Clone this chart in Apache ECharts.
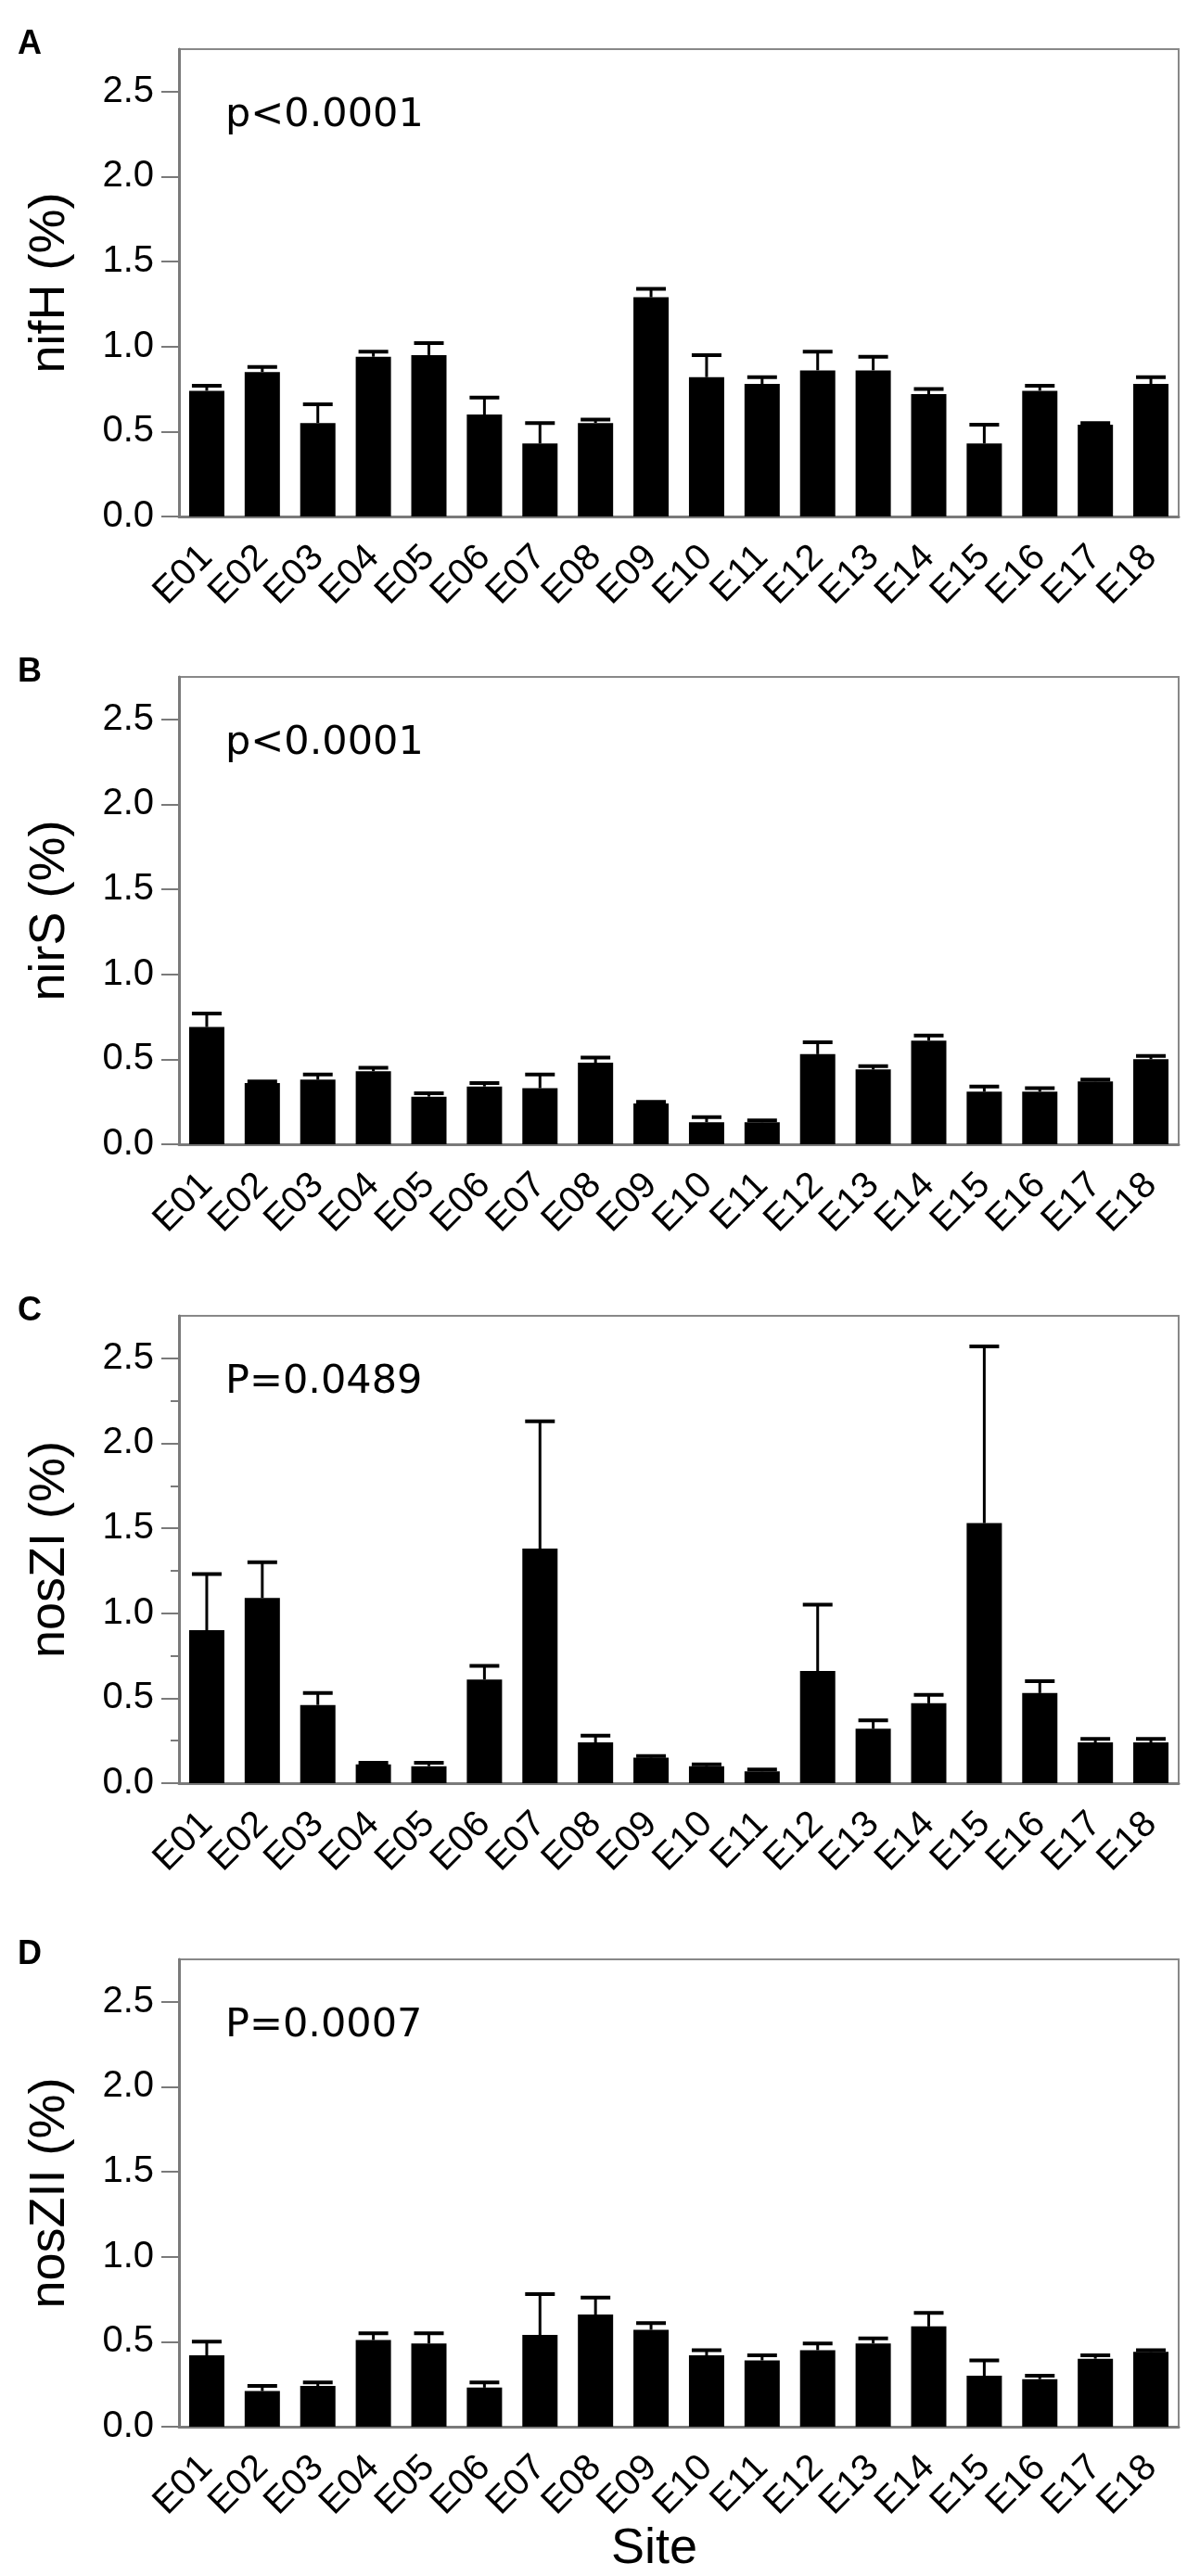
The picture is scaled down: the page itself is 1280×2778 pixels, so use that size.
<!DOCTYPE html>
<html>
<head>
<meta charset="utf-8">
<script src="https://cdn.jsdelivr.net/npm/echarts@6/dist/echarts.min.js"></script>
<style>
  html, body { margin: 0; padding: 0; background: #fff; }
  #chart { width: 1280px; height: 2778px; }
</style>
</head>
<body>
<div id="chart"></div>
<script>
// data (mean and top of error bar, %)
const sites = ['E01','E02','E03','E04','E05','E06','E07','E08','E09','E10','E11','E12','E13','E14','E15','E16','E17','E18']

const nifH    = [0.74,0.85,0.55,0.94,0.95,0.60,0.43,0.55,1.29,0.82,0.78,0.86,0.86,0.72,0.43,0.74,0.54,0.78]
const nifHTop = [0.77,0.88,0.66,0.97,1.02,0.70,0.55,0.57,1.34,0.95,0.82,0.97,0.94,0.75,0.54,0.77,0.55,0.82]

const nirS    = [0.69,0.36,0.38,0.43,0.28,0.34,0.33,0.48,0.24,0.13,0.13,0.53,0.44,0.61,0.31,0.31,0.37,0.50]
const nirSTop = [0.77,0.37,0.41,0.45,0.30,0.36,0.41,0.51,0.25,0.16,0.14,0.60,0.46,0.64,0.34,0.33,0.38,0.52]

const nosZI    = [0.90,1.09,0.46,0.11,0.10,0.61,1.38,0.24,0.15,0.10,0.07,0.66,0.32,0.47,1.53,0.53,0.24,0.24]
const nosZITop = [1.23,1.30,0.53,0.12,0.12,0.69,2.13,0.28,0.16,0.11,0.08,1.05,0.37,0.52,2.57,0.60,0.26,0.26]

const nosZII    = [0.42,0.21,0.24,0.51,0.49,0.23,0.54,0.66,0.57,0.42,0.39,0.45,0.49,0.59,0.30,0.28,0.40,0.44]
const nosZIITop = [0.50,0.24,0.26,0.55,0.55,0.26,0.78,0.76,0.61,0.45,0.42,0.49,0.52,0.67,0.39,0.30,0.42,0.45]

const yTicks = [0, 0.5, 1, 1.5, 2, 2.5]
const yMinorTicks = [0.25, 0.75, 1.25, 1.75, 2.25]

const panels = [
    { letter: 'A', name: 'nifH (%)',   pText: 'p<0.0001', mean: nifH,   top: nifHTop,   minor: false },
    { letter: 'B', name: 'nirS (%)',   pText: 'p<0.0001', mean: nirS,   top: nirSTop,   minor: false },
    { letter: 'C', name: 'nosZI (%)',  pText: 'P=0.0489', mean: nosZI,  top: nosZITop,  minor: true },
    { letter: 'D', name: 'nosZII (%)', pText: 'P=0.0007', mean: nosZII, top: nosZIITop, minor: false },
]

const boxTops = [53, 730, 1419, 2113]
const boxH = 504
const gridLeft = 193
const gridRight = 9
const font = '"Liberation Sans", Arial, Helvetica, sans-serif'
const pFont = '"DejaVu Sans", sans-serif'
const axisGray = '#7a7a7a'

const grids = []
const xAxes = []
const yAxes = []
const series = []
const graphics = []

const errorBar = function(params, api) {
    const x = api.value(0)
    const p0 = api.coord([x, api.value(1)])
    const p1 = api.coord([x, api.value(2)])
    const w = 16
    return {
        type: 'group',
        children: [
            { type: 'line', shape: { x1: p0[0], y1: p0[1], x2: p1[0], y2: p1[1] }, style: { stroke: '#000', lineWidth: 3 } },
            { type: 'line', shape: { x1: p1[0] - w, y1: p1[1], x2: p1[0] + w, y2: p1[1] }, style: { stroke: '#000', lineWidth: 4 } },
        ]
    }
}

panels.forEach((p, i) => {
    grids.push({
        left: gridLeft, right: gridRight, top: boxTops[i], height: boxH,
        show: true, borderColor: '#888', borderWidth: 2, backgroundColor: 'transparent'
    })
    xAxes.push({
        type: 'category', gridIndex: i, data: sites,
        axisLine: { lineStyle: { color: axisGray, width: 3 } },
        axisTick: { alignWithLabel: true, length: 21, lineStyle: { color: axisGray, width: 2 } },
        axisLabel: { interval: 0, rotate: 45, margin: 38, color: '#000', fontSize: 40, fontFamily: font },
    })
    yAxes.push({
        type: 'value', gridIndex: i, min: 0, max: 2.75,
        name: p.name, nameLocation: 'middle', nameGap: 112,
        nameTextStyle: { color: '#000', fontSize: 54, fontFamily: font },
        axisLine: { show: true, lineStyle: { color: axisGray, width: 3 } },
        axisTick: { show: true, length: 19, customValues: yTicks, lineStyle: { color: axisGray, width: 2 } },
        axisLabel: { customValues: yTicks, margin: 27, color: '#000', fontSize: 40, fontFamily: font,
            formatter: (v) => v.toFixed(1) },
        splitLine: { show: false },
    })
    series.push({
        type: 'bar', xAxisIndex: i, yAxisIndex: yAxes.length - 1,
        data: p.mean, barWidth: 38,
        itemStyle: { color: '#000' }, z: 2,
    })
    series.push({
        type: 'custom', xAxisIndex: i, yAxisIndex: yAxes.length - 1,
        data: p.mean.map((v, k) => [k, v, p.top[k]]),
        renderItem: errorBar, z: 3,
    })
    if (p.minor) {
        // shorter minor ticks at the quarter steps
        yAxes.push({
            type: 'value', gridIndex: i, min: 0, max: 2.75, position: 'left',
            axisLine: { show: false },
            axisTick: { show: true, length: 9, customValues: yMinorTicks, lineStyle: { color: axisGray, width: 2 } },
            axisLabel: { show: false },
            splitLine: { show: false },
        })
    }
    graphics.push({
        type: 'text', left: 19, top: boxTops[i] - 23,
        style: { text: p.letter, font: 'bold 36px ' + font, fill: '#000' }
    })
    graphics.push({
        type: 'text', left: 243, top: boxTops[i] + 50,
        style: { text: p.pText, font: '43px ' + pFont, fill: '#000' }
    })
})

graphics.push({
    type: 'text', left: 659, top: 2722,
    style: { text: 'Site', font: '54px ' + font, fill: '#000' }
})

const myChart = echarts.init(document.getElementById('chart'), null, { renderer: 'canvas' })
myChart.setOption({
    animation: false,
    backgroundColor: '#fff',
    grid: grids,
    xAxis: xAxes,
    yAxis: yAxes,
    series: series,
    graphic: graphics,
})
</script>
</body>
</html>
